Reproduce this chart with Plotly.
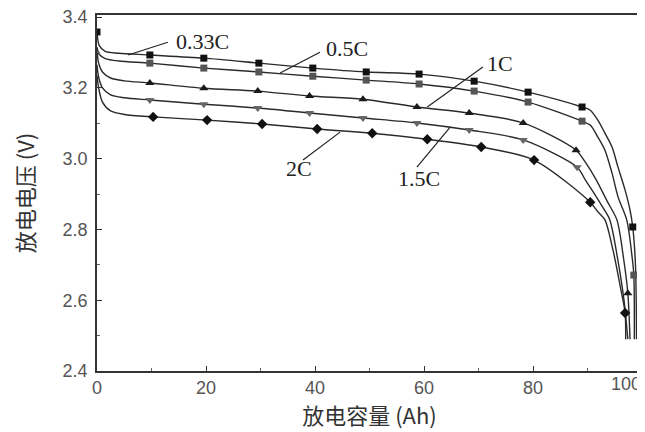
import plotly.graph_objects as go

# ---- data (capacity Ah, voltage V) ----
rates = ["0.33C", "0.5C", "1C", "1.5C", "2C"]

# line traces (read points along each curve)
line_x_033 = [0, 0.4, 1.5, 4, 9.7, 19.6, 29.7, 39.6, 49.4, 59.1, 69.2, 79.1, 89.0,
              90.5, 91.9, 93.2, 94.5, 95.6, 96.9, 97.8, 98.3, 98.8, 99.0]
line_y_033 = [3.358, 3.32, 3.303, 3.298, 3.293, 3.284, 3.270, 3.256, 3.245, 3.239, 3.219, 3.188, 3.146,
              3.137, 3.109, 3.072, 3.033, 2.976, 2.911, 2.855, 2.807, 2.70, 2.49]

line_x_05 = [0, 0.4, 1.5, 4, 9.7, 19.6, 29.7, 39.6, 49.4, 59.1, 69.2, 79.1, 89.0,
             90.5, 91.9, 93.2, 94.5, 95.6, 97.2, 98.2, 98.5, 98.6]
line_y_05 = [3.315, 3.295, 3.283, 3.276, 3.270, 3.256, 3.245, 3.233, 3.222, 3.211, 3.191, 3.160, 3.106,
             3.095, 3.061, 3.024, 2.959, 2.892, 2.827, 2.72, 2.671, 2.49]

line_x_1 = [0, 0.3, 1, 2.5, 5, 9.7, 19.6, 29.5, 39.0, 48.8, 58.7, 68.3, 78.2, 87.9,
            89.6, 91.6, 93.6, 95.4, 96.6, 97.4, 97.8]
line_y_1 = [3.305, 3.27, 3.245, 3.228, 3.220, 3.214, 3.199, 3.191, 3.177, 3.168, 3.146, 3.129, 3.101, 3.024,
            2.99, 2.94, 2.88, 2.827, 2.72, 2.62, 2.49]

line_x_15 = [0, 0.3, 1, 2.5, 5, 9.7, 19.6, 29.5, 39.0, 48.8, 58.7, 68.3, 78.2, 88.1,
             89.6, 91.3, 92.9, 94.1, 95.5, 96.7, 97.4]
line_y_15 = [3.265, 3.23, 3.20, 3.18, 3.172, 3.166, 3.154, 3.143, 3.129, 3.115, 3.101, 3.081, 3.053, 2.976,
             2.94, 2.90, 2.86, 2.827, 2.72, 2.60, 2.49]

line_x_2 = [0, 0.3, 1, 2.5, 5, 10.3, 20.2, 30.3, 40.4, 50.5, 60.6, 70.5, 80.2, 90.5,
            91.9, 93.2, 94.7, 96.0, 96.9, 97.0]
line_y_2 = [3.235, 3.20, 3.16, 3.135, 3.125, 3.118, 3.109, 3.098, 3.084, 3.072, 3.055, 3.033, 2.996, 2.877,
            2.85, 2.827, 2.74, 2.64, 2.564, 2.49]

# marker points
mark_x_033 = [0, 9.7, 19.6, 29.7, 39.6, 49.4, 59.1, 69.2, 79.1, 89.0, 98.3]
mark_y_033 = [3.358, 3.293, 3.284, 3.270, 3.256, 3.245, 3.239, 3.219, 3.188, 3.146, 2.807]
mark_x_05 = [9.7, 19.6, 29.7, 39.6, 49.4, 59.1, 69.2, 79.1, 89.0, 98.5]
mark_y_05 = [3.270, 3.256, 3.245, 3.233, 3.222, 3.211, 3.191, 3.160, 3.106, 2.671]
mark_x_1 = [9.7, 19.6, 29.5, 39.0, 48.8, 58.7, 68.3, 78.2, 87.9, 97.4]
mark_y_1 = [3.214, 3.199, 3.191, 3.177, 3.168, 3.146, 3.129, 3.101, 3.024, 2.62]
mark_x_15 = [9.7, 19.6, 29.5, 39.0, 48.8, 58.7, 68.3, 78.2, 88.1]
mark_y_15 = [3.166, 3.154, 3.143, 3.129, 3.115, 3.101, 3.081, 3.053, 2.976]
mark_x_2 = [10.3, 20.2, 30.3, 40.4, 50.5, 60.6, 70.5, 80.2, 90.5, 96.9]
mark_y_2 = [3.118, 3.109, 3.098, 3.084, 3.072, 3.055, 3.033, 2.996, 2.877, 2.564]

x_ticks = [0, 20, 40, 60, 80, 100]
x_ticklabels = ["0", "20", "40", "60", "80", ""]   # the last label is drawn right-aligned below
last_x_label = "100"
y_ticks = [2.4, 2.6, 2.8, 3.0, 3.2, 3.4]
y_ticklabels = ["2.4", "2.6", "2.8", "3.0", "3.2", "3.4"]

# label text position, leader line (curve end -> text end)
label_text_x = [19.3, 45.8, 74.0, 59.0, 37.0]
label_text_y = [3.332, 3.310, 3.270, 2.945, 2.972]
leader_x0 = [5.7, 33.6, 60.6, 58.7, 37.8]
leader_y0 = [3.293, 3.242, 3.146, 2.976, 2.996]
leader_x1 = [13.0, 40.9, 70.8, 64.8, 44.6]
leader_y1 = [3.329, 3.301, 3.259, 3.089, 3.075]

lines = [(line_x_033, line_y_033), (line_x_05, line_y_05), (line_x_1, line_y_1),
         (line_x_15, line_y_15), (line_x_2, line_y_2)]
marks = [(mark_x_033, mark_y_033), (mark_x_05, mark_y_05), (mark_x_1, mark_y_1),
         (mark_x_15, mark_y_15), (mark_x_2, mark_y_2)]
symbols = ["square", "square", "triangle-up", "triangle-down", "diamond"]
mcolors = ["#111111", "#555555", "#1a1a1a", "#666666", "#111111"]
msizes = [7, 7, 8, 8, 8]

tick_font = dict(family="Liberation Sans", size=18, color="#555555")

fig = go.Figure()
for i, r in enumerate(rates):
    lx, ly = lines[i]
    fig.add_trace(go.Scatter(x=lx, y=ly, mode="lines", name=r,
                             line=dict(color="#2a2a2a", width=1.4, shape="spline", smoothing=0.8),
                             showlegend=False, hoverinfo="skip"))
for i, r in enumerate(rates):
    mx, my = marks[i]
    fig.add_trace(go.Scatter(x=mx, y=my, mode="markers", name=r,
                             marker=dict(symbol=symbols[i], color=mcolors[i], size=msizes[i],
                                         line=dict(width=0)),
                             showlegend=False))

for i, r in enumerate(rates):
    fig.add_shape(type="line", xref="x", yref="y",
                  x0=leader_x0[i], y0=leader_y0[i], x1=leader_x1[i], y1=leader_y1[i],
                  line=dict(color="#222222", width=1.2))
    fig.add_annotation(x=label_text_x[i], y=label_text_y[i], text=r, showarrow=False,
                       xref="x", yref="y",
                       font=dict(family="Liberation Serif", size=22, color="#222222"))

# right-most x tick label (kept inside the page, as in the reference)
fig.add_annotation(x=x_ticks[-1], y=0, xref="x", yref="paper", text=last_x_label,
                   showarrow=False, xanchor="right", yanchor="top", yshift=-1, xshift=1,
                   font=tick_font)

axis_common = dict(showline=True, linecolor="#333333", linewidth=1.5, mirror=True,
                   ticks="inside", ticklen=5, tickcolor="#333333", showgrid=False, zeroline=False,
                   ticklabeloverflow="allow", automargin=False,
                   tickfont=tick_font)

fig.update_xaxes(range=[0, 100], tickvals=x_ticks, ticktext=x_ticklabels,
                 minor=dict(ticks="inside", ticklen=3, dtick=10, tickcolor="#666666"),
                 title=dict(text="放电容量 (Ah)", standoff=8,
                            font=dict(family="Noto Sans CJK SC", size=22, color="#333333")),
                 **axis_common)
fig.update_yaxes(range=[2.4, 3.406], tickvals=y_ticks, ticktext=y_ticklabels,
                 minor=dict(ticks="inside", ticklen=3, dtick=0.1, tickcolor="#666666"),
                 ticklabelstandoff=4,
                 title=dict(text="放电电压 (V)", standoff=26,
                            font=dict(family="Noto Sans CJK SC", size=22, color="#333333")),
                 **axis_common)

# page body has an 8px margin, so the figure is offset by 8px
fig.update_layout(width=637, height=424, margin=dict(l=89, r=3, t=7, b=61),
                  plot_bgcolor="white", paper_bgcolor="white")

fig.write_html("out.html")
